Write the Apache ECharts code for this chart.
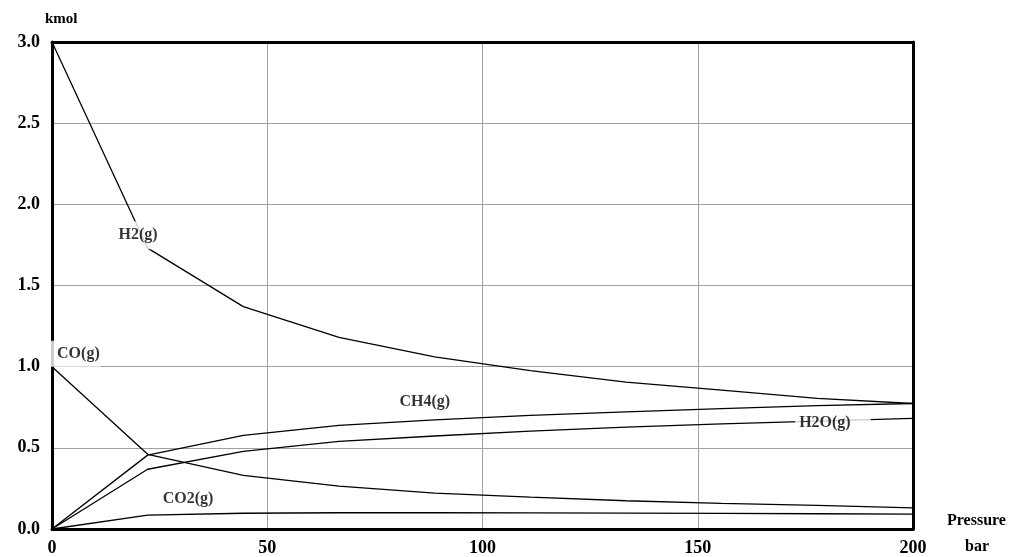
<!DOCTYPE html>
<html><head><meta charset="utf-8">
<script src="https://cdn.jsdelivr.net/npm/echarts@6/dist/echarts.min.js"></script>
<style>html,body{margin:0;padding:0;background:#fff}#c{width:1018px;height:557px}</style>
</head><body><div id="c"></div>
<script>
var pressure = [0, 22.22, 44.44, 66.67, 88.89, 111.11, 133.33, 155.56, 177.78, 200];
var h2  = [3.0, 1.73, 1.37, 1.18, 1.06, 0.975, 0.905, 0.855, 0.805, 0.773];
var co  = [1.0, 0.46, 0.33, 0.264, 0.221, 0.196, 0.174, 0.158, 0.145, 0.13];
var co2 = [0, 0.085, 0.097, 0.1, 0.1, 0.099, 0.098, 0.096, 0.094, 0.092];
var ch4 = [0, 0.455, 0.577, 0.638, 0.672, 0.700, 0.722, 0.742, 0.760, 0.773];
var h2o = [0, 0.368, 0.478, 0.54, 0.573, 0.603, 0.627, 0.647, 0.665, 0.681];
var seriesNames = ['H2(g)', 'CO(g)', 'CO2(g)', 'CH4(g)', 'H2O(g)'];
var xTitle = ['Pressure', 'bar'];
var yTitle = 'kmol';

var FONT = '"Liberation Serif", "Times New Roman", serif';
function pairs(arr){ return arr.map(function(v,i){ return [pressure[i], v]; }); }
function lineSeries(name, arr){
  return { name: name, type: 'line', data: pairs(arr), symbol: 'none', z: 2,
    lineStyle: { color: '#000', width: 1.3 }, animation: false };
}
var frameAxis = { show: true, axisLine: { show: true, onZero: false, lineStyle: { color: '#000', width: 3 } },
  axisTick: { show: false }, axisLabel: { show: false }, splitLine: { show: false } };
var chart = echarts.init(document.getElementById('c'));
chart.setOption({
  animation: false,
  backgroundColor: '#fff',
  grid: { left: 52, right: 105, top: 42, bottom: 26, show: false, containLabel: false },
  xAxis: [{ type: 'value', min: 0, max: 200, interval: 50, z: 1,
    axisLine: { show: true, onZero: false, lineStyle: { color: '#000', width: 3 } },
    axisTick: { show: false },
    splitLine: { show: true, lineStyle: { color: '#a0a0a0', width: 1 } },
    axisLabel: { fontFamily: FONT, fontWeight: 'bold', fontSize: 18, color: '#000', margin: 10,
      formatter: function(v){ return String(v); } } },
    Object.assign({ type: 'value', min: 0, max: 200, position: 'top', z: 1 }, frameAxis)],
  yAxis: [{ type: 'value', min: 0, max: 3, interval: 0.5, z: 1,
    axisLine: { show: true, onZero: false, lineStyle: { color: '#000', width: 3 } },
    axisTick: { show: false },
    splitLine: { show: true, lineStyle: { color: '#a0a0a0', width: 1 } },
    axisLabel: { fontFamily: FONT, fontWeight: 'bold', fontSize: 18, color: '#000', margin: 12,
      formatter: function(v){ return v.toFixed(1); } } },
    Object.assign({ type: 'value', min: 0, max: 3, position: 'right', z: 1 }, frameAxis)],
  graphic: [
    { type: 'text', left: 45, top: 12, z: 100, style: { text: yTitle, font: 'bold 15px ' + FONT, fill: '#000' } },
    { type: 'text', left: 947, top: 513, z: 100, style: { text: xTitle[0], font: 'bold 16px ' + FONT, fill: '#000' } },
    { type: 'text', left: 965, top: 539, z: 100, style: { text: xTitle[1], font: 'bold 16px ' + FONT, fill: '#000' } }
  ],
  series: [
    lineSeries(seriesNames[0], h2),
    lineSeries(seriesNames[1], co),
    lineSeries(seriesNames[2], co2),
    lineSeries(seriesNames[3], ch4),
    lineSeries(seriesNames[4], h2o),
    { type: 'scatter', z: 10, symbolSize: 0, animation: false, silent: true,
      label: { show: true, position: 'inside', formatter: function(p){ return p.data.name; },
        backgroundColor: '#fff', fontFamily: FONT, fontWeight: 'bold', fontSize: 16, color: '#000' },
      data: [
        { name: seriesNames[0], value: [20.0, 1.81], label: { padding: [6, 1, 6, 1] } },
        { name: seriesNames[1], value: [5.2, 1.08], label: { padding: [6, 1, 4, 9] } },
        { name: seriesNames[2], value: [31.6, 0.184], label: { padding: [2, 2, 2, 2] } },
        { name: seriesNames[3], value: [86.6, 0.785], label: { padding: [2, 2, 2, 2] } },
        { name: seriesNames[4], value: [181.4, 0.656], label: { padding: [2, 20, 2, 4] } }
      ] }
  ]
});
</script></body></html>
